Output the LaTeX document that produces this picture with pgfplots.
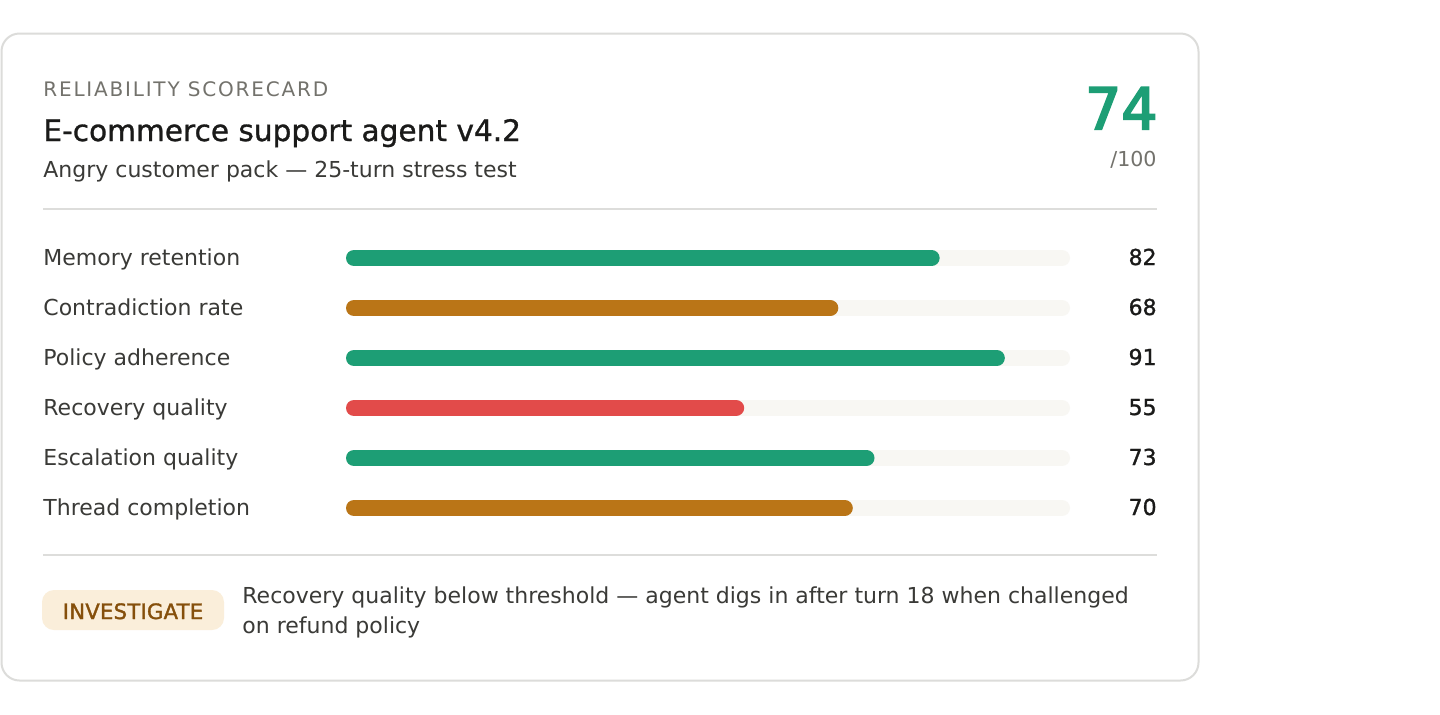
\documentclass[border=0pt]{standalone}
\usepackage{fontspec}
\setmainfont{DejaVu Sans}
\usepackage{pgfplots}
\pgfplotsset{compat=1.18}
\definecolor{cardborder}{HTML}{DCDCDA}
\definecolor{divider}{HTML}{DDDDDB}
\definecolor{track}{HTML}{F8F7F3}
\definecolor{cgreen}{HTML}{1D9E75}
\definecolor{camber}{HTML}{BA7517}
\definecolor{cred}{HTML}{E24B4A}
\definecolor{tgray}{HTML}{73726C}
\definecolor{tdark}{HTML}{1A1A19}
\definecolor{tbody}{HTML}{3A3A37}
\definecolor{badgebg}{HTML}{FAEEDA}
\definecolor{badgefg}{HTML}{854F0B}
\newcommand{\fs}[1]{\fontsize{#1}{#1}\selectfont}
\begin{document}
\begin{tikzpicture}[x=0.5pt,y=-0.5pt]
\useasboundingbox (0,0) rectangle (1440,714);
\fill[white] (0,0) rectangle (1440,714);
\draw[line width=1pt, cardborder, fill=white, rounded corners=9pt] (1.5,33.5) rectangle (1198.5,680.5);
% header
\node[anchor=base west, inner sep=0pt, text=tgray] at (43,96) {\fs{10pt}\addfontfeatures{LetterSpace=9}RELIABILITY SCORECARD};
\node[anchor=base west, inner sep=0pt, text=tdark] at (43,141) {\fs{14.8pt}\addfontfeatures{FakeBold=1.0}E-commerce support agent v4.2};
\node[anchor=base west, inner sep=0pt, text=tbody] at (43,177) {\fs{11pt}Angry customer pack — 25-turn stress test};
\node[anchor=base east, inner sep=0pt, text=cgreen] at (1158,129) {\fs{28.5pt}\addfontfeatures{FakeBold=3.5}74};
\node[anchor=base east, inner sep=0pt, text=tgray] at (1157,166) {\fs{10.3pt}/100};
\draw[line width=1pt, divider] (43,209) -- (1157,209);
\draw[line width=1pt, divider] (43,555) -- (1157,555);
% row labels and values
\foreach \lab/\val [count=\i from 0] in {Memory retention/82, Contradiction rate/68, Policy adherence/91, Recovery quality/55, Escalation quality/73, Thread completion/70}{
  \node[anchor=base west, inner sep=0pt, text=tbody] at (43,265+50*\i) {\fs{11pt}\lab};
  \node[anchor=base east, inner sep=0pt, text=tdark] at (1157,265+50*\i) {\fs{11pt}\addfontfeatures{FakeBold=1.2}\val};
}
% bars
\begin{axis}[
  at={(173pt,-116.5pt)}, anchor=north west,
  scale only axis, width=362pt, height=150pt,
  xmin=0, xmax=100, ymin=-0.5, ymax=5.5, y dir=reverse,
  hide axis, clip=false,
  every axis plot/.append style={line width=8pt, line cap=round, shorten <=4pt, shorten >=4pt, mark=none},
]
\addplot[track] coordinates {(0,0) (100,0)};
\addplot[track] coordinates {(0,1) (100,1)};
\addplot[track] coordinates {(0,2) (100,2)};
\addplot[track] coordinates {(0,3) (100,3)};
\addplot[track] coordinates {(0,4) (100,4)};
\addplot[track] coordinates {(0,5) (100,5)};
\addplot[cgreen] coordinates {(0,0) (82,0)};
\addplot[camber] coordinates {(0,1) (68,1)};
\addplot[cgreen] coordinates {(0,2) (91,2)};
\addplot[cred] coordinates {(0,3) (55,3)};
\addplot[cgreen] coordinates {(0,4) (73,4)};
\addplot[camber] coordinates {(0,5) (70,5)};
\end{axis}
% footer
\fill[badgebg, rounded corners=6pt] (42,590) rectangle (224,630);
\node[anchor=base, inner sep=0pt, text=badgefg] at (133,619) {\fs{10.6pt}\addfontfeatures{FakeBold=1.5,LetterSpace=1}INVESTIGATE};
\node[anchor=base west, inner sep=0pt, text=tbody] at (242,603) {\fs{11pt}Recovery quality below threshold — agent digs in after turn 18 when challenged};
\node[anchor=base west, inner sep=0pt, text=tbody] at (242,633) {\fs{11pt}on refund policy};
\end{tikzpicture}
\end{document}
